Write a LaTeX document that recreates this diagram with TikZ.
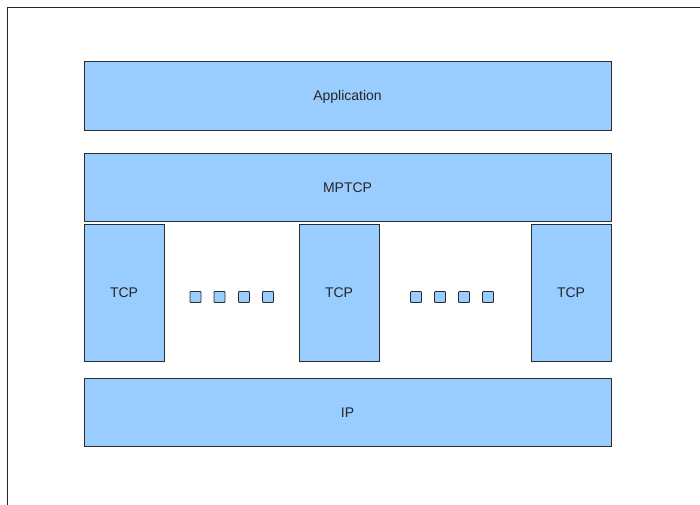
\documentclass[tikz,border=0pt]{standalone}
\usepackage{fontspec}
\setmainfont{Liberation Sans}
\definecolor{boxfill}{HTML}{99CCFF}
\definecolor{boxline}{HTML}{2B2B2B}
\begin{document}
\begin{tikzpicture}[x=1pt,y=-1pt,
  layer/.style={draw=boxline,fill=boxfill,line width=1pt,inner sep=0pt,
    font=\fontsize{14}{16}\selectfont,text=black!85,text height=10pt,text depth=0pt},
  dot/.style={draw=boxline,fill=boxfill,line width=0.8pt,inner sep=0pt,
    minimum width=11pt,minimum height=11pt,rounded corners=0.8pt}]
\useasboundingbox (0,0) rectangle (700,504);
\draw[line width=1pt,draw=black!85] (7,514) -- (7,7) -- (710,7);
\node[layer,minimum width=527pt,minimum height=69pt] (app) at (347.5,95.5) {Application};
\node[layer,minimum width=527pt,minimum height=68pt] (mptcp) at (347.5,187) {MPTCP};
\node[layer,minimum width=80pt,minimum height=137pt] (tcp1) at (124,292.5) {TCP};
\node[layer,minimum width=80pt,minimum height=137pt] (tcp2) at (339,292.5) {TCP};
\node[layer,minimum width=80pt,minimum height=137pt] (tcp3) at (571,292.5) {TCP};
\node[layer,minimum width=527pt,minimum height=68pt] (ip) at (347.5,412) {IP};
\foreach \x [count=\i] in {195.5,219.5,244,268} \node[dot] (da\i) at (\x,297) {};
\foreach \x [count=\i] in {416,440,464,488} \node[dot] (db\i) at (\x,297) {};
\end{tikzpicture}
\end{document}
